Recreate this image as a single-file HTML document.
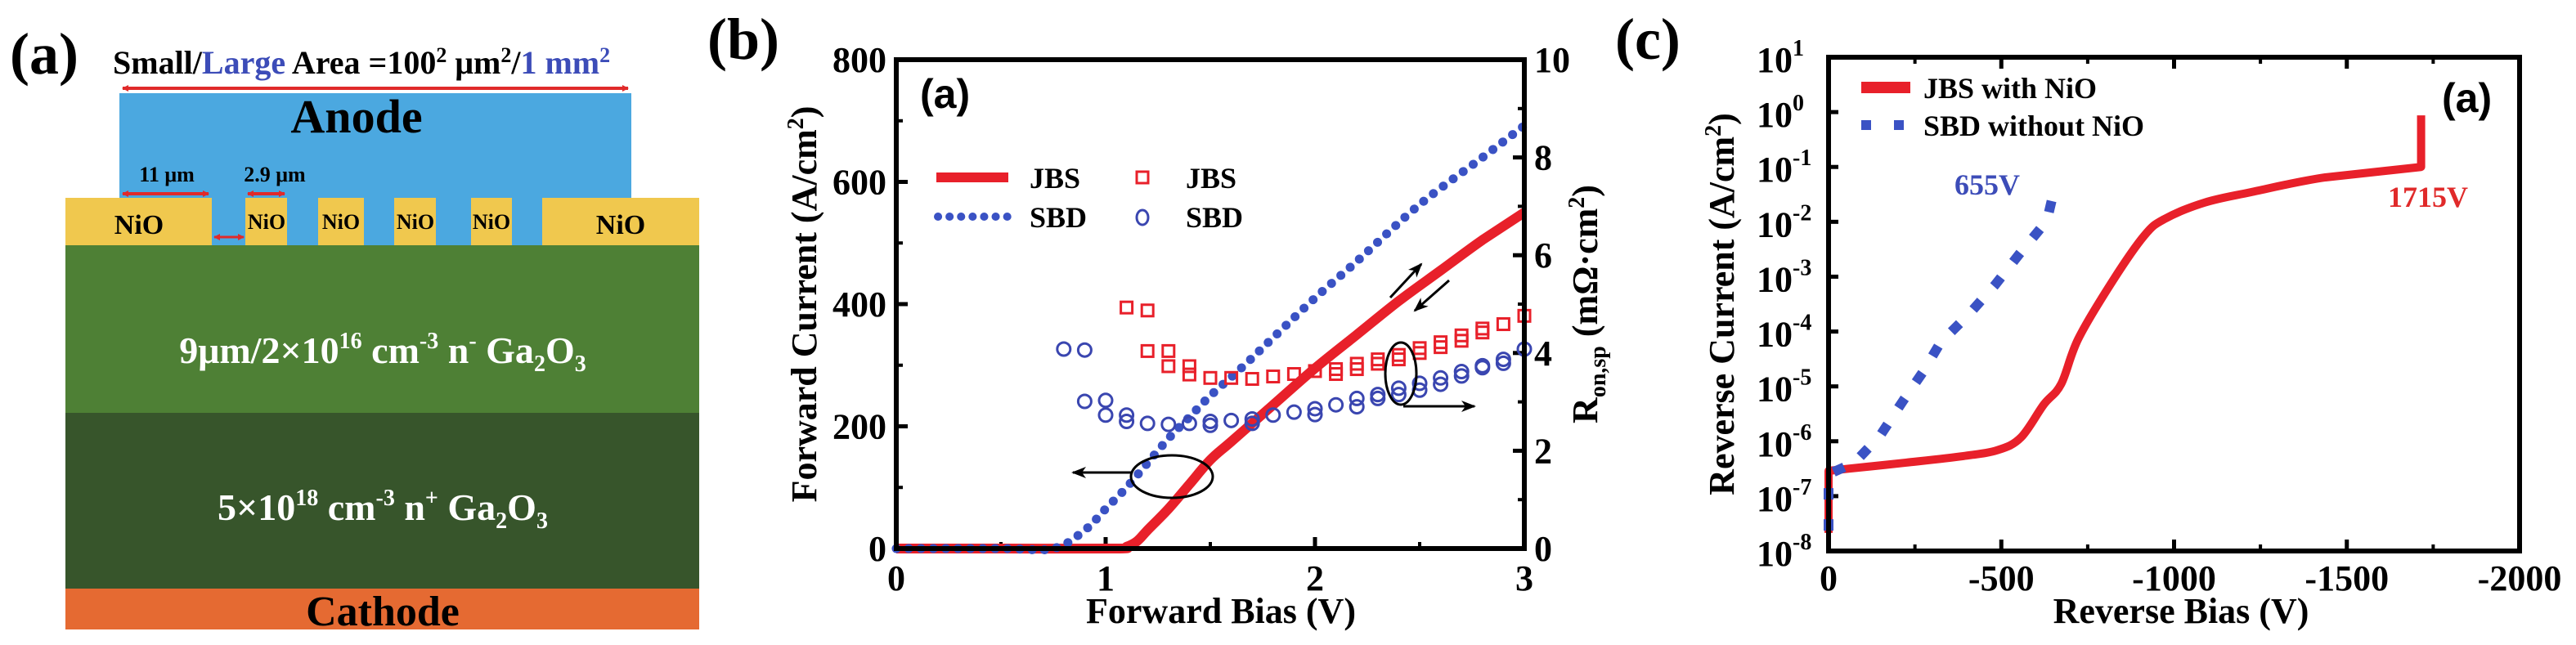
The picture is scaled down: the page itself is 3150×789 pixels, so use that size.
<!DOCTYPE html>
<html><head><meta charset="utf-8"><style>
html,body{margin:0;padding:0;background:#fff;}
svg{display:block;}
text{font-family:"Liberation Serif","DejaVu Serif",serif;font-weight:bold;}
.sans{font-family:"Liberation Sans",sans-serif;}
</style></head><body>
<svg id="fig" width="3150" height="789" viewBox="0 0 3150 789" xmlns="http://www.w3.org/2000/svg" font-family="Liberation Serif, DejaVu Serif, serif">
<defs>
<marker id="ar" markerWidth="8" markerHeight="8" refX="7" refY="4" orient="auto-start-reverse" markerUnits="userSpaceOnUse"><path d="M0,0 L8,4 L0,8 z" fill="#e02a2a"/></marker>
<marker id="ak" markerWidth="18" markerHeight="14" refX="16" refY="7" orient="auto" markerUnits="userSpaceOnUse"><path d="M0,0 L18,7 L0,14 L5,7 z" fill="#000"/></marker>
</defs>

<!-- Panel (a) -->
<g>
<text x="12" y="90" font-size="72">(a)</text>
<text x="138" y="90" font-size="40">Small/<tspan fill="#3c4cb8">Large</tspan> Area =100<tspan font-size="26" dy="-14">2</tspan><tspan dy="14"> μm</tspan><tspan font-size="26" dy="-14">2</tspan><tspan dy="14">/</tspan><tspan fill="#3c4cb8">1 mm</tspan><tspan fill="#3c4cb8" font-size="26" dy="-14">2</tspan></text>
<line x1="150" y1="108" x2="768" y2="108" stroke="#e02a2a" stroke-width="4" marker-start="url(#ar)" marker-end="url(#ar)"/>
<rect x="146" y="114" width="626" height="186" fill="#4ba8e0"/>
<text x="436" y="162" font-size="58" text-anchor="middle">Anode</text>
<rect x="80" y="242" width="179" height="58" fill="#f0c84e"/>
<rect x="300" y="242" width="51" height="58" fill="#f0c84e"/>
<rect x="389" y="242" width="56" height="58" fill="#f0c84e"/>
<rect x="482" y="242" width="51" height="58" fill="#f0c84e"/>
<rect x="576" y="242" width="50" height="58" fill="#f0c84e"/>
<rect x="663" y="242" width="192" height="58" fill="#f0c84e"/>
<text x="170" y="286" font-size="34" text-anchor="middle">NiO</text>
<text x="326" y="280" font-size="26" text-anchor="middle" font-weight="normal">NiO</text>
<text x="417" y="280" font-size="26" text-anchor="middle" font-weight="normal">NiO</text>
<text x="508" y="280" font-size="26" text-anchor="middle" font-weight="normal">NiO</text>
<text x="601" y="280" font-size="26" text-anchor="middle" font-weight="normal">NiO</text>
<text x="759" y="286" font-size="34" text-anchor="middle">NiO</text>
<text x="204" y="222" font-size="26" text-anchor="middle">11 μm</text>
<text x="336" y="222" font-size="26" text-anchor="middle">2.9 μm</text>
<line x1="150" y1="237" x2="255" y2="237" stroke="#e02a2a" stroke-width="4" marker-start="url(#ar)" marker-end="url(#ar)"/>
<line x1="303" y1="237" x2="348" y2="237" stroke="#e02a2a" stroke-width="4" marker-start="url(#ar)" marker-end="url(#ar)"/>
<line x1="262" y1="290" x2="298" y2="290" stroke="#e02a2a" stroke-width="3" marker-start="url(#ar)" marker-end="url(#ar)"/>
<text x="289" y="330" font-size="26" text-anchor="middle">1.3 μm</text>
<rect x="80" y="300" width="775" height="205" fill="#4e8035"/>
<rect x="80" y="505" width="775" height="215" fill="#37552b"/>
<rect x="80" y="720" width="775" height="50" fill="#e56a32"/>
<text x="468" y="444" font-size="46" fill="#fff" font-weight="normal" text-anchor="middle">9μm/2×10<tspan font-size="28" dy="-18">16</tspan><tspan dy="18"> cm</tspan><tspan font-size="28" dy="-18">-3</tspan><tspan dy="18">  n</tspan><tspan font-size="28" dy="-18">-</tspan><tspan dy="18"> Ga</tspan><tspan font-size="28" dy="10">2</tspan><tspan dy="-10">O</tspan><tspan font-size="28" dy="10">3</tspan></text>
<text x="468" y="636" font-size="46" fill="#fff" font-weight="normal" text-anchor="middle">5×10<tspan font-size="28" dy="-18">18</tspan><tspan dy="18"> cm</tspan><tspan font-size="28" dy="-18">-3</tspan><tspan dy="18">  n</tspan><tspan font-size="28" dy="-18">+</tspan><tspan dy="18"> Ga</tspan><tspan font-size="28" dy="10">2</tspan><tspan dy="-10">O</tspan><tspan font-size="28" dy="10">3</tspan></text>
<text x="468" y="765" font-size="52" text-anchor="middle">Cathode</text>
</g>

<text x="865" y="72" font-size="72">(b)</text>
<text x="1975" y="72" font-size="72">(c)</text>
<g id="pb"></g>
<g id="pc"></g>
</svg>
<script>
// ---------- Panel (b) data ----------
const bSbdV = [0,0.5,0.75,0.9,1.0,1.1,1.2,1.3,1.4,1.5,1.65,1.8,2.0,2.2,2.5,2.8,3.0];
const bSbdI = [0,0,0,30,65,100,140,180,215,250,296,345,410,470,563,640,692];
const bJbsV = [0,0.5,1.05,1.1,1.15,1.2,1.3,1.4,1.5,1.6,1.8,2.0,2.2,2.4,2.6,2.8,3.0];
const bJbsI = [0,0,0,3,12,30,65,105,145,175,235,295,350,405,455,505,550];
const bJbsRV = [1.1,1.2,1.2,1.3,1.3,1.4,1.4,1.5,1.6,1.7,1.8,1.9,2.0,2.1,2.1,2.2,2.2,2.3,2.3,2.4,2.4,2.5,2.5,2.6,2.6,2.7,2.7,2.8,2.8,2.9,3.0];
const bJbsR  = [4.93,4.87,4.04,4.04,3.73,3.73,3.56,3.49,3.49,3.47,3.52,3.57,3.63,3.67,3.57,3.78,3.67,3.87,3.78,3.96,3.87,4.10,4.00,4.22,4.12,4.36,4.25,4.50,4.42,4.59,4.76];
const bSbdRV = [0.8,0.9,0.9,1.0,1.0,1.1,1.1,1.2,1.3,1.4,1.5,1.5,1.6,1.7,1.7,1.8,1.9,2.0,2.0,2.1,2.2,2.2,2.3,2.3,2.4,2.4,2.5,2.5,2.6,2.6,2.7,2.7,2.8,2.8,2.9,2.9,3.0];
const bSbdR  = [4.08,4.06,3.01,3.03,2.73,2.73,2.60,2.56,2.54,2.56,2.60,2.52,2.62,2.65,2.56,2.73,2.79,2.86,2.74,2.94,3.07,2.90,3.15,3.07,3.28,3.15,3.38,3.24,3.49,3.36,3.62,3.53,3.74,3.70,3.87,3.79,4.08];
const bXTicks = [0,1,2,3];
const bYTicks = [0,200,400,600,800];
const bY2Ticks = [0,2,4,6,8,10];

// ---------- Panel (c) data ----------
const cJbsV = [0,0,-58,-224,-390,-490,-557,-623,-673,-723,-823,-914,-972,-1088,-1222,-1438,-1715,-1715];
const cJbsLog = [-7.67,-6.54,-6.50,-6.39,-6.27,-6.16,-5.93,-5.33,-4.96,-4.13,-3.07,-2.25,-1.95,-1.65,-1.46,-1.19,-1.0,-0.06];
const cSbdV = [0,0,-75,-149,-216,-274,-324,-407,-482,-552,-632,-657];
const cSbdLog = [-7.63,-6.6,-6.39,-5.90,-5.26,-4.73,-4.20,-3.68,-3.15,-2.59,-1.98,-1.31];
const cXTicks = [0,-500,-1000,-1500,-2000];
const cYTicks = [1,0,-1,-2,-3,-4,-5,-6,-7,-8];

const NS = "http://www.w3.org/2000/svg";
function mk(parent, tag, attrs, txt){const e=document.createElementNS(NS,tag);for(const k in attrs)e.setAttribute(k,attrs[k]);if(txt!==undefined)e.textContent=txt;parent.appendChild(e);return e;}
function smooth(pts){
  let d='M'+pts[0][0]+','+pts[0][1];
  for(let i=0;i<pts.length-1;i++){
    const p0=pts[i-1]||pts[i],p1=pts[i],p2=pts[i+1],p3=pts[i+2]||p2;
    if(Math.abs(p1[0]-p2[0])<0.5||Math.abs(p0[0]-p1[0])<0.5||Math.abs(p2[0]-p3[0])<0.5){d+=' L'+p2[0]+','+p2[1];continue;}
    const c1=[p1[0]+(p2[0]-p0[0])/6,p1[1]+(p2[1]-p0[1])/6];
    const c2=[p2[0]-(p3[0]-p1[0])/6,p2[1]-(p3[1]-p1[1])/6];
    d+=' C'+c1[0]+','+c1[1]+' '+c2[0]+','+c2[1]+' '+p2[0]+','+p2[1];
  }
  return d;
}

// ---------- Draw (b) ----------
(function(){
const g=document.getElementById('pb');
const L=1096,R=1864,T=73,B=671;
const x=v=>L+(v-0)/3*(R-L);
const y=v=>B-v/800*(B-T);
const y2=v=>B-v/10*(B-T);
bXTicks.forEach(t=>{mk(g,'line',{x1:x(t),y1:B,x2:x(t),y2:B-14,stroke:'#000','stroke-width':5});
 const tl=mk(g,'text',{x:x(t),y:722,'font-size':44,'text-anchor':'middle'},String(t));
 
 });
[0.5,1.5,2.5].forEach(t=>mk(g,'line',{x1:x(t),y1:B,x2:x(t),y2:B-8,stroke:'#000','stroke-width':4}));
bYTicks.forEach(t=>{mk(g,'line',{x1:L,y1:y(t),x2:L+14,y2:y(t),stroke:'#000','stroke-width':5});
 const tl=mk(g,'text',{x:1084,y:y(t)+15,'font-size':44,'text-anchor':'end'},String(t));
 
 });
[100,300,500,700].forEach(t=>mk(g,'line',{x1:L,y1:y(t),x2:L+8,y2:y(t),stroke:'#000','stroke-width':4}));
bY2Ticks.forEach(t=>{mk(g,'line',{x1:R,y1:y2(t),x2:R-14,y2:y2(t),stroke:'#000','stroke-width':5});
 const tl=mk(g,'text',{x:1876,y:y2(t)+15,'font-size':44},String(t));
 
 });
[1,3,5,7,9].forEach(t=>mk(g,'line',{x1:R,y1:y2(t),x2:R-8,y2:y2(t),stroke:'#000','stroke-width':4}));
const lj=mk(g,'path',{d:smooth(bJbsV.map((v,i)=>[x(v),y(bJbsI[i])])),fill:'none',stroke:'#e8202a','stroke-width':12,'stroke-linejoin':'round'});


const ls=mk(g,'path',{d:smooth(bSbdV.map((v,i)=>[x(v),y(bSbdI[i])])),fill:'none',stroke:'#3a52c4','stroke-width':11,'stroke-dasharray':'0.1 15','stroke-linecap':'round'});


bJbsRV.forEach((v,i)=>{const r=mk(g,'rect',{x:x(v)-7,y:y2(bJbsR[i])-7,width:14,height:14,fill:'none',stroke:'#e8202a','stroke-width':3});
 
 });
bSbdRV.forEach((v,i)=>{const c=mk(g,'ellipse',{cx:x(v),cy:y2(bSbdR[i]),rx:8,ry:8,fill:'none',stroke:'#3a46b0','stroke-width':3});
 
 });
mk(g,'rect',{x:L,y:T,width:R-L,height:B-T,fill:'none',stroke:'#000','stroke-width':6});
mk(g,'ellipse',{cx:1433,cy:583,rx:50,ry:26,fill:'none',stroke:'#000','stroke-width':3});
mk(g,'line',{x1:1384,y1:578,x2:1312,y2:578,stroke:'#000','stroke-width':3,'marker-end':'url(#ak)'});
mk(g,'ellipse',{cx:1713,cy:457,rx:19,ry:38,fill:'none',stroke:'#000','stroke-width':3});
mk(g,'line',{x1:1716,y1:497,x2:1803,y2:497,stroke:'#000','stroke-width':3,'marker-end':'url(#ak)'});
mk(g,'line',{x1:1700,y1:364,x2:1738,y2:323,stroke:'#000','stroke-width':3,'marker-end':'url(#ak)'});
mk(g,'line',{x1:1772,y1:343,x2:1730,y2:380,stroke:'#000','stroke-width':3,'marker-end':'url(#ak)'});
const ia=mk(g,'text',{x:1125,y:132,'font-size':50,class:'sans'},'(a)');


mk(g,'line',{x1:1145,y1:217,x2:1233,y2:217,stroke:'#e8202a','stroke-width':12});
mk(g,'text',{x:1259,y:230,'font-size':36},'JBS');
mk(g,'line',{x1:1147,y1:265,x2:1233,y2:265,stroke:'#3a52c4','stroke-width':10,'stroke-dasharray':'0.1 14','stroke-linecap':'round'});
mk(g,'text',{x:1259,y:278,'font-size':36},'SBD');
mk(g,'rect',{x:1390,y:210,width:14,height:14,fill:'none',stroke:'#e8202a','stroke-width':3});
mk(g,'text',{x:1450,y:230,'font-size':36},'JBS');
mk(g,'ellipse',{cx:1397,cy:266,rx:7,ry:9,fill:'none',stroke:'#3a46b0','stroke-width':3});
mk(g,'text',{x:1450,y:278,'font-size':36},'SBD');
const xt=mk(g,'text',{x:1493,y:762,'font-size':44,'text-anchor':'middle'},'Forward Bias (V)');


const yt=mk(g,'text',{transform:'translate(998,372) rotate(-90)','font-size':44,'text-anchor':'middle'});
yt.innerHTML='Forward Current (A/cm<tspan font-size="28" dy="-16">2</tspan><tspan dy="16">)</tspan>';


const y2t=mk(g,'text',{transform:'translate(1953,372) rotate(-90)','font-size':44,'text-anchor':'middle'});
y2t.innerHTML='R<tspan font-size="28" dy="10">on,sp</tspan><tspan dy="-10"> (mΩ·cm</tspan><tspan font-size="28" dy="-16">2</tspan><tspan dy="16">)</tspan>';


})();

// ---------- Draw (c) ----------
(function(){
const g=document.getElementById('pc');
const L=2236,R=3081,T=70,B=674;
const x=v=>L+(-v)/2000*(R-L);
const y=l=>T+(1-l)/9*(B-T);
cXTicks.forEach(t=>{mk(g,'line',{x1:x(t),y1:B,x2:x(t),y2:B-14,stroke:'#000','stroke-width':5});
 mk(g,'line',{x1:x(t),y1:T,x2:x(t),y2:T+14,stroke:'#000','stroke-width':5});
 const tl=mk(g,'text',{x:x(t),y:722,'font-size':44,'text-anchor':'middle'},String(t));
 
 });
[-250,-750,-1250,-1750].forEach(t=>{mk(g,'line',{x1:x(t),y1:B,x2:x(t),y2:B-8,stroke:'#000','stroke-width':4});mk(g,'line',{x1:x(t),y1:T,x2:x(t),y2:T+8,stroke:'#000','stroke-width':4});});
cYTicks.forEach(t=>{mk(g,'line',{x1:L,y1:y(t),x2:L+12,y2:y(t),stroke:'#000','stroke-width':5});
 const tl=mk(g,'text',{x:2148,y:y(t)+18,'font-size':44});
 tl.innerHTML='10<tspan font-size="28" dy="-20">'+t+'</tspan>';
 
 });
const lj=mk(g,'path',{d:smooth(cJbsV.map((v,i)=>[x(v),y(cJbsLog[i])])),fill:'none',stroke:'#e8202a','stroke-width':10,'stroke-linejoin':'round'});


const ps=cSbdV.map((v,i)=>x(v)+','+y(cSbdLog[i])).join(' ');
const ls=mk(g,'polyline',{points:ps,fill:'none',stroke:'#3a52c4','stroke-width':12,'stroke-dasharray':'14 24'});


mk(g,'rect',{x:L,y:T,width:R-L,height:B-T,fill:'none',stroke:'#000','stroke-width':6});
mk(g,'line',{x1:2276,y1:107,x2:2336,y2:107,stroke:'#e8202a','stroke-width':14});
mk(g,'text',{x:2352,y:120,'font-size':36},'JBS with NiO');
mk(g,'line',{x1:2276,y1:153,x2:2336,y2:153,stroke:'#3a52c4','stroke-width':12,'stroke-dasharray':'12 28'});
mk(g,'text',{x:2352,y:166,'font-size':36},'SBD without NiO');
const ia=mk(g,'text',{x:2986,y:137,'font-size':50,class:'sans'},'(a)');


mk(g,'text',{x:2390,y:238,'font-size':36,fill:'#3c4cb8'},'655V');
mk(g,'text',{x:2920,y:253,'font-size':36,fill:'#e02a2a'},'1715V');
const xt=mk(g,'text',{x:2667,y:762,'font-size':44,'text-anchor':'middle'},'Reverse Bias (V)');


const yt=mk(g,'text',{transform:'translate(2120,372) rotate(-90)','font-size':44,'text-anchor':'middle'});
yt.innerHTML='Reverse Current (A/cm<tspan font-size="28" dy="-16">2</tspan><tspan dy="16">)</tspan>';


})();
</script>
</body></html>
